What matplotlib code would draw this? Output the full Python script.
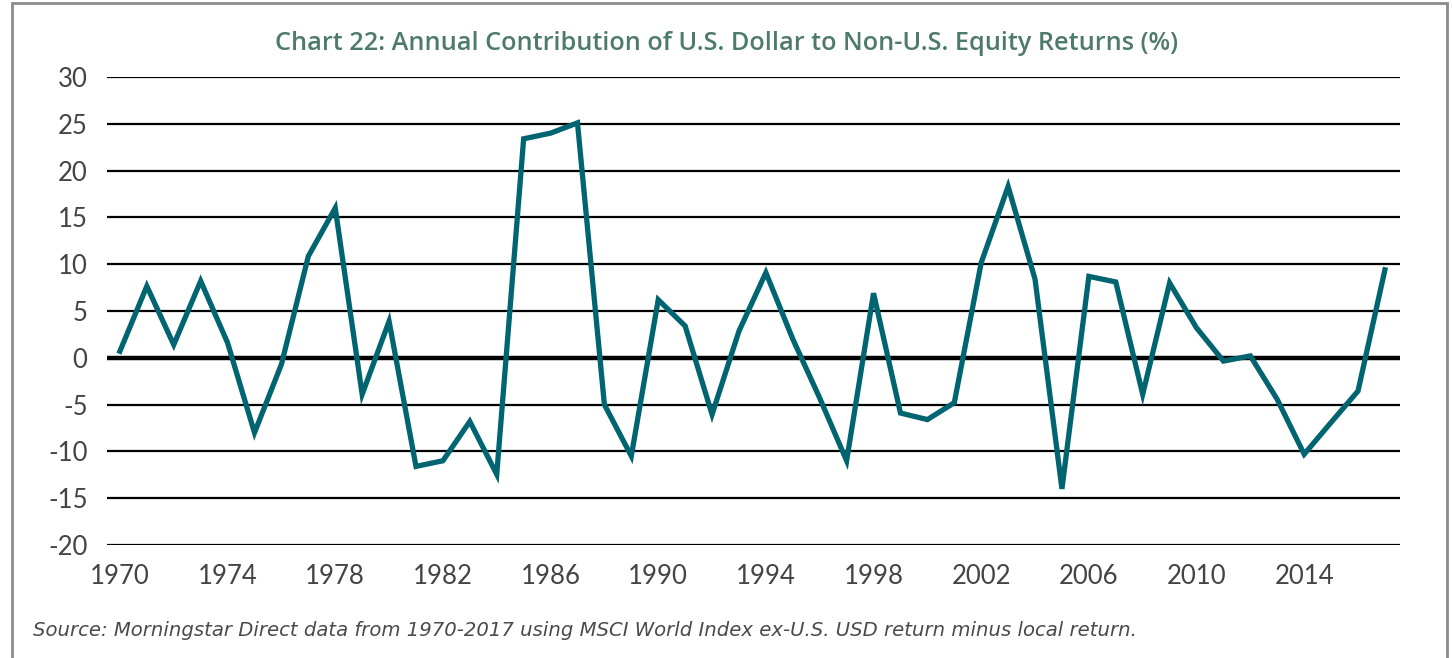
import numpy as np
import matplotlib.pyplot as plt
from matplotlib.patches import Rectangle

# annual contribution of the dollar (%) 1970-2017
years = np.arange(1970, 2018)
contrib = [0.7, 7.65, 1.4, 8.2, 1.6, -8.0, -0.7, 10.85, 16.0, -3.9,
           3.9, -11.6, -11.0, -6.8, -12.45, 23.4, 24.0, 25.1, -5.0, -10.5,
           6.2, 3.4, -6.05, 2.85, 9.1, 2.0, -4.3, -11.0, 6.9, -5.9,
           -6.6, -4.8, 10.15, 18.3, 8.4, -14.0, 8.7, 8.1, -3.9, 8.0,
           3.2, -0.35, 0.2, -4.45, -10.3, -6.9, -3.55, 9.4]
yticks = [-20, -15, -10, -5, 0, 5, 10, 15, 20, 25, 30]
xticks = list(range(1970, 2018, 4))

title = "Chart 22: Annual Contribution of U.S. Dollar to Non-U.S. Equity Returns (%)"
source = ("Source: Morningstar Direct data from 1970-2017 using MSCI World Index "
          "ex-U.S. USD return minus local return.")

W, H = 1452, 658
plt.rcParams['font.family'] = ['Lato', 'DejaVu Sans']
plt.rcParams['axes.unicode_minus'] = False
fig = plt.figure(figsize=(W / 100, H / 100), dpi=100)

# grey frame around the panel
fig.patches.append(Rectangle((12 / W, -0.01), (1447 - 12) / W, 1 - 3 / H + 0.01,
                             transform=fig.transFigure, fill=False,
                             edgecolor='#8c8c8c', linewidth=2))

ax = fig.add_axes([107 / W, 1 - 545 / H, (1400 - 107) / W, (545 - 77) / H])
for v in yticks:
    ax.axhline(v, color='black', lw=3.2 if v == 0 else 1.6, zorder=1)
ax.plot(years, contrib, color='#006570', lw=3.8, solid_joinstyle='miter', zorder=3)

ax.set_xlim(1969.52, 2017.56)
ax.set_ylim(-20, 30)
ax.set_yticks(yticks)
ax.set_xticks(xticks)
ax.tick_params(length=0, labelsize=18.5, labelcolor='#444444')
ax.tick_params(axis='x', pad=14)
ax.tick_params(axis='y', pad=14)
for s in ax.spines.values():
    s.set_visible(False)

fig.text(727 / W, 1 - 43 / H, title, ha='center', va='center', fontsize=18.2,
         color='#4e7b69', fontweight='semibold', family=['Open Sans', 'DejaVu Sans'])
fig.text(33 / W, 1 - 630 / H, source, ha='left', va='center', fontsize=14.1,
         color='#4a4a4a', style='italic', family=['DejaVu Sans'])

fig.savefig('out.png', dpi=100)
